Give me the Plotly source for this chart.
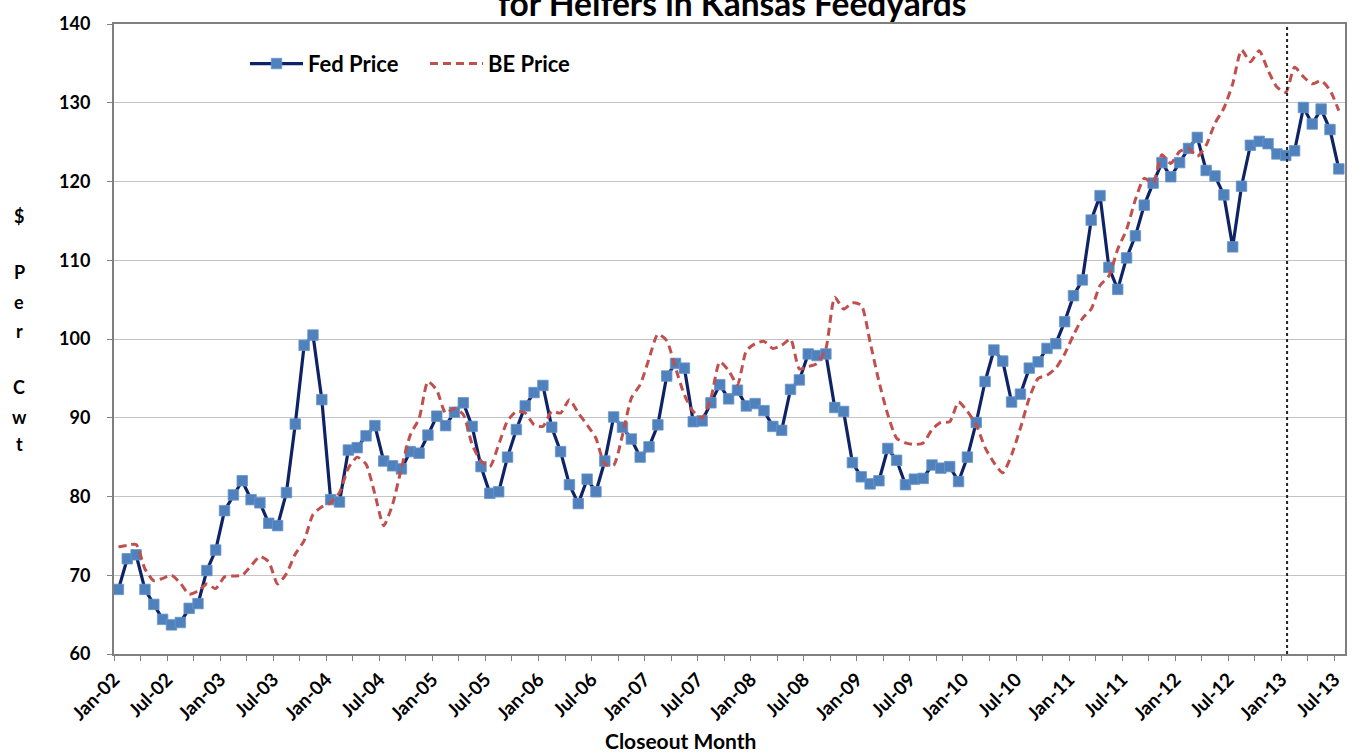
import plotly.graph_objects as go

# ---------------- data ----------------
tick_labels = ["Jan-02", "Jul-02", "Jan-03", "Jul-03", "Jan-04", "Jul-04", "Jan-05", "Jul-05",
               "Jan-06", "Jul-06", "Jan-07", "Jul-07", "Jan-08", "Jul-08", "Jan-09", "Jul-09",
               "Jan-10", "Jul-10", "Jan-11", "Jul-11", "Jan-12", "Jul-12", "Jan-13", "Jul-13"]

fed_price = [68.2, 72.1, 72.6, 68.2, 66.3, 64.4, 63.7, 64.0, 65.8, 66.4, 70.6, 73.2,
             78.2, 80.2, 82.0, 79.6, 79.2, 76.6, 76.3, 80.5, 89.2, 99.2, 100.5, 92.3,
             79.6, 79.3, 85.9, 86.2, 87.7, 89.0, 84.5, 83.9, 83.5, 85.7, 85.5, 87.8,
             90.2, 89.0, 90.7, 91.9, 88.9, 83.8, 80.4, 80.6, 85.0, 88.5, 91.5, 93.2,
             94.1, 88.8, 85.7, 81.5, 79.1, 82.2, 80.6, 84.5, 90.1, 88.8, 87.3, 85.0,
             86.3, 89.1, 95.3, 96.9, 96.3, 89.5, 89.6, 91.9, 94.2, 92.4, 93.5, 91.5,
             91.8, 90.9, 88.9, 88.4, 93.6, 94.8, 98.1, 97.9, 98.1, 91.3, 90.8, 84.3,
             82.5, 81.6, 82.0, 86.1, 84.6, 81.5, 82.2, 82.3, 84.0, 83.6, 83.8, 81.9,
             85.0, 89.4, 94.6, 98.6, 97.2, 92.0, 93.0, 96.3, 97.1, 98.8, 99.4, 102.2,
             105.5, 107.5, 115.1, 118.2, 109.1, 106.3, 110.3, 113.1, 117.0, 119.8, 122.4, 120.6,
             122.4, 124.2, 125.6, 121.4, 120.7, 118.3, 111.7, 119.4, 124.6, 125.1, 124.8, 123.5,
             123.3, 123.9, 129.4, 127.3, 129.2, 126.6, 121.6]

be_price = [73.6, 73.8, 73.9, 70.8, 69.3, 69.6, 70.0, 69.0, 67.6, 68.0, 68.9, 68.3,
            69.8, 69.9, 70.0, 71.2, 72.4, 71.7, 68.9, 70.2, 72.7, 74.4, 77.7, 78.7,
            79.2, 80.5, 83.6, 85.0, 84.1, 80.3, 76.3, 79.0, 83.6, 87.8, 89.9, 94.6,
            93.5, 90.6, 91.2, 90.4, 86.6, 84.5, 83.8, 86.6, 89.6, 90.8, 90.6, 89.1,
            88.9, 90.8, 90.6, 92.3, 90.6, 89.1, 87.4, 84.1, 84.0, 87.8, 92.5, 94.2,
            97.5, 100.6, 99.8, 96.3, 92.9, 90.8, 90.0, 92.5, 97.1, 96.0, 94.2, 98.5,
            99.4, 99.7, 98.8, 99.2, 100.0, 96.2, 96.5, 96.9, 98.8, 105.3, 103.8, 104.6,
            104.3, 99.6, 94.6, 90.4, 87.4, 86.8, 86.6, 86.8, 88.5, 89.4, 89.5, 92.0,
            90.8, 89.1, 86.2, 84.3, 83.0, 85.3, 88.7, 92.5, 95.0, 95.4, 96.3, 98.1,
            100.5, 102.6, 103.8, 106.8, 108.0, 111.4, 113.9, 117.7, 120.4, 119.8, 123.4, 122.3,
            123.8, 124.2, 123.2, 124.6, 127.4, 129.3, 132.4, 136.7, 135.2, 136.6, 134.1, 132.0,
            131.3, 134.5, 133.3, 132.4, 132.8, 131.6, 129.0]

y_label_letters = ["$", "P", "e", "r", "C", "w", "t"]
title_text = "for Heifers in Kansas Feedyards"
x_title = "Closeout Month"

# month index (data points sit mid-month, labels at month start)
n = len(fed_price)
x_pts = [i + 0.5 for i in range(n)]
tick_pos = [6 * k for k in range(len(tick_labels))]
marker_month = 132.65  # Jan-13 reference line

FONT = "Lato"
W, H = 1361, 755
ML, MR, MT, MB = 114, 16, 20, 101
plot_h = H - MT - MB
plot_w = W - ML - MR


def py_to_paper(py):
    return (H - MB - py) / plot_h


def px_to_paper(px):
    return (px - ML) / plot_w


fig = go.Figure()
fig.add_trace(go.Scatter(
    x=x_pts, y=fed_price, name="Fed Price", mode="lines+markers",
    line=dict(color="#0E2366", width=3.2),
    marker=dict(symbol="square", size=10.5, color="#4F81BD",
                line=dict(color="#6A96CC", width=0.8)),
))
fig.add_trace(go.Scatter(
    x=x_pts, y=be_price, name="BE Price", mode="lines",
    line=dict(color="#C0504D", width=3, dash="8px,5px", shape="spline", smoothing=0.6),
))

fig.add_shape(type="line", x0=marker_month, x1=marker_month, y0=60, y1=140,
              xref="x", yref="y", line=dict(color="#222222", width=2, dash="dot"))

annotations = [
    dict(text="<b>%s</b>" % title_text, xref="paper", yref="paper",
         x=px_to_paper(732), y=py_to_paper(-1), xanchor="center", yanchor="middle",
         showarrow=False, font=dict(family=FONT, size=33.5, color="#000000")),
    dict(text="<b>%s</b>" % x_title, xref="paper", yref="paper",
         x=px_to_paper(680), y=py_to_paper(741), xanchor="center", yanchor="middle",
         showarrow=False, font=dict(family=FONT, size=21, color="#000000")),
]
letter_py = [213, 270, 300, 329, 385, 415, 443]
for ch, py in zip(y_label_letters, letter_py):
    annotations.append(dict(text="<b>%s</b>" % ch, xref="paper", yref="paper",
                            x=px_to_paper(19), y=py_to_paper(py), xanchor="center",
                            yanchor="middle", showarrow=False,
                            font=dict(family=FONT, size=18, color="#000000")))

fig.update_layout(
    width=W, height=H,
    margin=dict(l=ML, r=MR, t=MT, b=MB),
    paper_bgcolor="white", plot_bgcolor="white",
    font=dict(family=FONT, color="#000000"),
    showlegend=True,
    legend=dict(orientation="h", x=px_to_paper(245), y=py_to_paper(60),
                xanchor="left", yanchor="middle", bgcolor="rgba(0,0,0,0)",
                font=dict(family=FONT, size=22, color="#000000", weight="bold"),
                itemwidth=53, tracegroupgap=0, entrywidth=112, entrywidthmode="pixels"),
    annotations=annotations,
    xaxis=dict(range=[0, 139.2], tickmode="array", tickvals=tick_pos,
               ticktext=["<b>%s</b>" % t for t in tick_labels],
               tickangle=-45, tickfont=dict(family=FONT, size=19, color="#000000"),
               ticks="outside", ticklen=5, tickcolor="#808080", tickwidth=1,
               minor=dict(dtick=3, tick0=0, ticks="outside", ticklen=5,
                          tickcolor="#808080", showgrid=False),
               showgrid=False, zeroline=False,
               showline=True, linecolor="#7F7F7F", linewidth=2, mirror=True),
    yaxis=dict(range=[60, 140], dtick=10, tick0=60,
               tickfont=dict(family=FONT, size=18, color="#000000", weight="bold"),
               ticks="outside", ticklen=5, tickcolor="#808080", ticklabelstandoff=13,
               showgrid=True, gridcolor="#C4C4C4", gridwidth=1.3, zeroline=False,
               showline=True, linecolor="#7F7F7F", linewidth=2, mirror=True),
)

fig.write_html("out.html", config={"displayModeBar": False},
               post_script="document.body.style.margin='0';")
